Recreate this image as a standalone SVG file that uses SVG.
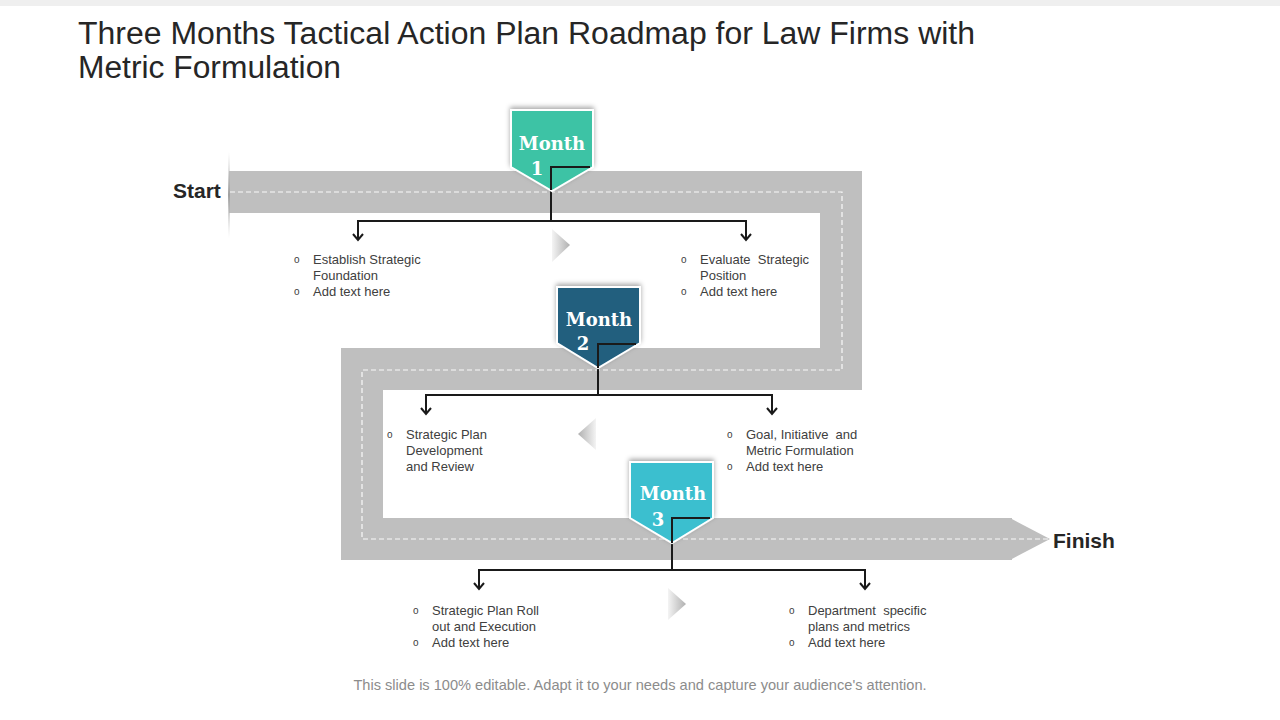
<svg xmlns="http://www.w3.org/2000/svg" width="1280" height="720" viewBox="0 0 1280 720">
<defs>
<style>
.title{font-family:"Liberation Sans",Arial,sans-serif;font-size:31px;fill:#262626}
.lbl{font-family:"Liberation Sans",Arial,sans-serif;font-size:21px;font-weight:bold;fill:#262626}
.t{font-family:"Liberation Sans",Arial,sans-serif;font-size:13px;fill:#404040}
.b{font-family:"Liberation Sans",Arial,sans-serif;font-size:10px;fill:#404040}
.m{font-family:"DejaVu Serif","Liberation Serif",serif;font-size:18px;font-weight:bold;fill:#ffffff}
.foot{font-family:"Liberation Sans",Arial,sans-serif;font-size:14.6px;fill:#8c8c8c}
.conn{fill:none;stroke:#1a1a1a;stroke-width:2}
.badge{stroke:#ffffff;stroke-width:2;filter:url(#sh)}
</style>
<marker id="arr" markerWidth="12" markerHeight="12" refX="10" refY="6" orient="auto-start-reverse" markerUnits="userSpaceOnUse" viewBox="0 0 12 12">
<path d="M4,1 L10,6 L4,11" fill="none" stroke="#1a1a1a" stroke-width="2"/>
</marker>
<linearGradient id="chevR" x1="0" y1="0" x2="1" y2="0">
<stop offset="0" stop-color="#f4f4f4"/>
<stop offset="1" stop-color="#b0b0b0"/>
</linearGradient>
<linearGradient id="chevL" x1="1" y1="0" x2="0" y2="0">
<stop offset="0" stop-color="#f4f4f4"/>
<stop offset="1" stop-color="#b0b0b0"/>
</linearGradient>
<linearGradient id="startLine" x1="0" y1="0" x2="0" y2="1">
<stop offset="0" stop-color="#d0d0d0" stop-opacity="0"/>
<stop offset="0.5" stop-color="#a0a0a0"/>
<stop offset="1" stop-color="#d0d0d0" stop-opacity="0"/>
</linearGradient>
<filter id="sh" x="-30%" y="-30%" width="160%" height="160%">
<feDropShadow dx="0" dy="-2" stdDeviation="2.5" flood-color="#000" flood-opacity="0.35"/>
</filter>
</defs>
<rect x="0" y="0" width="1280" height="720" fill="#ffffff"/>
<rect x="0" y="0" width="1280" height="6" fill="#efefef"/>

<g id="title">
<text class="title" x="78" y="44" textLength="897" lengthAdjust="spacingAndGlyphs">Three Months Tactical Action Plan Roadmap for Law Firms with</text>
<text class="title" x="78" y="78" textLength="263" lengthAdjust="spacingAndGlyphs">Metric Formulation</text>
</g>

<g id="road">
<path d="M229,192 H841 V369 H362 V539 H1012" fill="none" stroke="#bfbfbf" stroke-width="42" stroke-linejoin="miter"/>
<polygon points="1010,518 1050,539 1010,560" fill="#bfbfbf"/>
<path d="M230,192 H842 V370 H362 V539 H1048" fill="none" stroke="#ffffff" stroke-width="1.2" stroke-dasharray="5 3" opacity="0.9"/>
<rect x="228" y="152" width="2" height="86" fill="url(#startLine)"/>
</g>

<g id="start"><text class="lbl" x="173" y="198">Start</text></g>
<g id="finish"><text class="lbl" x="1053" y="548">Finish</text></g>

<g id="chevrons">
<polygon points="552,229 570,245 552,262" fill="url(#chevR)"/>
<polygon points="596,418 578,434 596,450" fill="url(#chevL)"/>
<polygon points="668,588 686,604 668,620" fill="url(#chevR)"/>
</g>

<g id="connectors">
<path class="conn" d="M590,167 H551 V221"/>
<path class="conn" d="M358,240 V221 H746 V240" marker-start="url(#arr)" marker-end="url(#arr)"/>
<path class="conn" d="M636,344 H598 V395"/>
<path class="conn" d="M426,414 V395 H772 V414" marker-start="url(#arr)" marker-end="url(#arr)"/>
<path class="conn" d="M710,518 H672 V570"/>
<path class="conn" d="M479,589 V570 H865 V589" marker-start="url(#arr)" marker-end="url(#arr)"/>
</g>

<g id="month1">
<path class="badge" d="M511,110 H593 V167 L552,191 L511,167 Z" fill="#3ec3a5"/>
<text class="m" x="552" y="150" text-anchor="middle">Month</text>
<text class="m" x="537" y="175" text-anchor="middle">1</text>
<path class="conn" d="M590,167 H551 V190"/>
</g>
<g id="month2">
<path class="badge" d="M557,287 H640 V343 L598,368 L557,343 Z" fill="#205e7e"/>
<text class="m" x="599" y="326" text-anchor="middle">Month</text>
<text class="m" x="583" y="350" text-anchor="middle">2</text>
<path class="conn" d="M636,344 H598 V368"/>
</g>
<g id="month3">
<path class="badge" d="M630,462 H713 V518 L672,543 L630,518 Z" fill="#3abfcf"/>
<text class="m" x="673" y="500" text-anchor="middle">Month</text>
<text class="m" x="658" y="526" text-anchor="middle">3</text>
<path class="conn" d="M710,518 H672 V543"/>
</g>

<g id="text1">
<text class="b" x="294" y="263">o</text>
<text class="t" x="313" y="264">Establish Strategic</text>
<text class="t" x="313" y="280">Foundation</text>
<text class="b" x="294" y="295">o</text>
<text class="t" x="313" y="296">Add text here</text>
</g>
<g id="text2">
<text class="b" x="681" y="263">o</text>
<text class="t" x="700" y="264" xml:space="preserve">Evaluate  Strategic</text>
<text class="t" x="700" y="280">Position</text>
<text class="b" x="681" y="295">o</text>
<text class="t" x="700" y="296">Add text here</text>
</g>
<g id="text3">
<text class="b" x="387" y="438">o</text>
<text class="t" x="406" y="439">Strategic Plan</text>
<text class="t" x="406" y="455">Development</text>
<text class="t" x="406" y="471">and Review</text>
</g>
<g id="text4">
<text class="b" x="727" y="438">o</text>
<text class="t" x="746" y="439" xml:space="preserve">Goal, Initiative  and</text>
<text class="t" x="746" y="455">Metric Formulation</text>
<text class="b" x="727" y="470">o</text>
<text class="t" x="746" y="471">Add text here</text>
</g>
<g id="text5">
<text class="b" x="413" y="614">o</text>
<text class="t" x="432" y="615">Strategic Plan Roll</text>
<text class="t" x="432" y="631">out and Execution</text>
<text class="b" x="413" y="646">o</text>
<text class="t" x="432" y="647">Add text here</text>
</g>
<g id="text6">
<text class="b" x="789" y="614">o</text>
<text class="t" x="808" y="615" xml:space="preserve">Department  specific</text>
<text class="t" x="808" y="631">plans and metrics</text>
<text class="b" x="789" y="646">o</text>
<text class="t" x="808" y="647">Add text here</text>
</g>

<g id="footer">
<text class="foot" x="640" y="690" text-anchor="middle">This slide is 100% editable. Adapt it to your needs and capture your audience's attention.</text>
</g>
</svg>
